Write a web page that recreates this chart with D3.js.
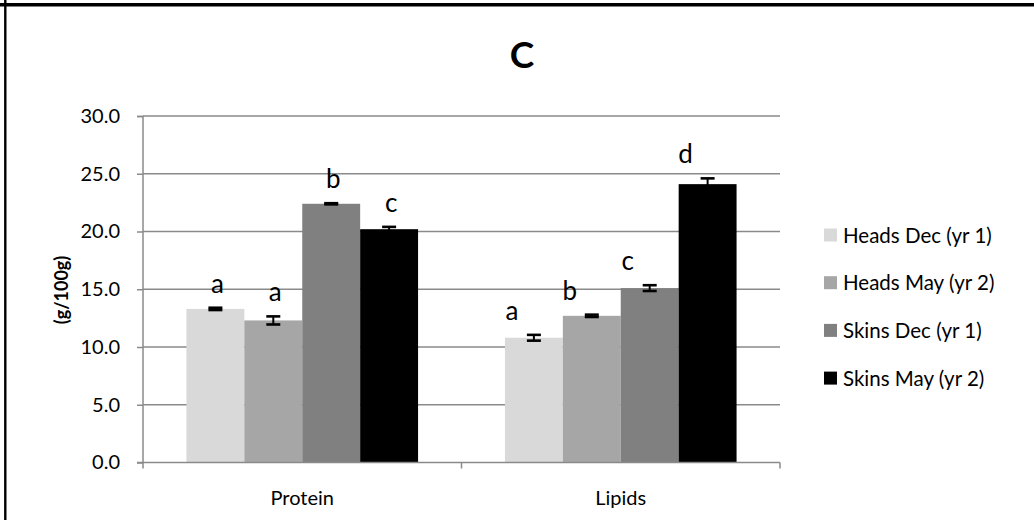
<!DOCTYPE html>
<html>
<head>
<meta charset="utf-8">
<script src="https://cdn.jsdelivr.net/npm/d3@7"></script>
<style>
body{margin:0;background:#fff;}
svg{display:block;font-family:Lato,"Open Sans",sans-serif;}
</style>
</head>
<body>
<script>
// chart values
var categories=["Protein","Lipids"];
var series=["Heads Dec (yr 1)","Heads May (yr 2)","Skins Dec (yr 1)","Skins May (yr 2)"];
var colors=["#d9d9d9","#a6a6a6","#808080","#000000"];
var proteinVals=[13.3,12.3,22.4,20.2];
var proteinErr=[0.1,0.35,0.05,0.2];
var proteinLetters=["a","a","b","c"];
var lipidVals=[10.8,12.7,15.1,24.1];
var lipidErr=[0.25,0.1,0.25,0.5];
var lipidLetters=["a","b","c","d"];
var yTicks=[0,5,10,15,20,25,30];

var width=1034,height=520;
var svg=d3.select('body').append('svg')
	.attr('width',width)
	.attr('height',height);

// frame
svg.append('line').attr('x1',0).attr('x2',width).attr('y1',4.8).attr('y2',4.8)
	.attr('stroke','#000').attr('stroke-width',3.6);
svg.append('line').attr('x1',5.3).attr('x2',5.3).attr('y1',0).attr('y2',height)
	.attr('stroke','#000').attr('stroke-width',2.4);

var x0=d3.scaleBand().domain(categories).range([143,780]);
var x1=d3.scaleBand().domain(series).range([0,x0.bandwidth()]).paddingOuter(0.75);
var y=d3.scaleLinear().domain([0,30]).range([462.5,116]);

var data=[];
categories.forEach(function(c,ci){
	var vals=ci==0?proteinVals:lipidVals;
	var errs=ci==0?proteinErr:lipidErr;
	var lets=ci==0?proteinLetters:lipidLetters;
	series.forEach(function(s,si){
		data.push({cat:c,ser:s,val:vals[si],err:errs[si],letter:lets[si],color:colors[si]});
	});
});

// gridlines
svg.append('g').selectAll('line')
	.data(yTicks.slice(1))
	.enter().append('line')
	.attr('x1',143).attr('x2',780)
	.attr('y1',function(d){return y(d);})
	.attr('y2',function(d){return y(d);})
	.attr('stroke','#8a8a8a').attr('stroke-width',1.5);

// bars
svg.append('g').selectAll('rect')
	.data(data)
	.enter().append('rect')
	.attr('x',function(d){return x0(d.cat)+x1(d.ser);})
	.attr('y',function(d){return y(d.val);})
	.attr('width',x1.bandwidth())
	.attr('height',function(d){return y(0)-y(d.val);})
	.attr('fill',function(d){return d.color;});

// error bars
var eb=svg.append('g').attr('stroke','#000').attr('stroke-width',2);
data.forEach(function(d){
	var cx=x0(d.cat)+x1(d.ser)+x1.bandwidth()/2;
	eb.append('line').attr('x1',cx).attr('x2',cx).attr('y1',y(d.val+d.err)).attr('y2',y(d.val-d.err));
	eb.append('line').attr('x1',cx-7).attr('x2',cx+7).attr('y1',y(d.val+d.err)).attr('y2',y(d.val+d.err)).attr('stroke-width',2.6);
	eb.append('line').attr('x1',cx-7).attr('x2',cx+7).attr('y1',y(d.val-d.err)).attr('y2',y(d.val-d.err)).attr('stroke-width',2.6);
});

// significance letters
var labelDx={Protein:2,Lipids:-22};
svg.append('g').selectAll('text')
	.data(data)
	.enter().append('text')
	.attr('x',function(d){return x0(d.cat)+x1(d.ser)+x1.bandwidth()/2+labelDx[d.cat];})
	.attr('y',function(d){return y(d.val+d.err)-15;})
	.attr('text-anchor','middle')
	.style('font-size','26px')
	.attr('fill','#000')
	.text(function(d){return d.letter;});

// y axis
var yAxis=d3.axisLeft(y).tickValues(yTicks).tickSize(6).tickPadding(17)
	.tickFormat(d3.format('.1f'));
var yg=svg.append('g').attr('transform','translate(143,0)').call(yAxis);
yg.select('.domain').attr('stroke','#8a8a8a').attr('stroke-width',1.5).attr('d','M-6,116.5H0V462.5H-6');
yg.selectAll('.tick line').attr('stroke','#8a8a8a').attr('stroke-width',1.5);
yg.selectAll('.tick text').style('font-size','20px').style('font-family','Lato,sans-serif').attr('fill','#000');

// x axis
var xg=svg.append('g');
xg.append('line').attr('x1',143).attr('x2',780).attr('y1',y(0)).attr('y2',y(0))
	.attr('stroke','#8a8a8a').attr('stroke-width',1.5);
xg.selectAll('.xt').data([143].concat(categories.map(function(c){return x0(c)+x0.bandwidth();})))
	.enter().append('line')
	.attr('x1',function(d){return d;}).attr('x2',function(d){return d;})
	.attr('y1',y(0)).attr('y2',y(0)+6)
	.attr('stroke','#8a8a8a').attr('stroke-width',1.5);
xg.selectAll('text').data(categories)
	.enter().append('text')
	.attr('x',function(d){return x0(d)+x0.bandwidth()/2;})
	.attr('y',505)
	.attr('text-anchor','middle')
	.style('font-size','20px')
	.text(function(d){return d;});

// title
svg.append('text')
	.attr('x',522).attr('y',68)
	.attr('text-anchor','middle')
	.style('font-size','37px').style('font-weight','bold')
	.text('C');

// y label
svg.append('text')
	.attr('transform','translate(68,290) rotate(-90)')
	.attr('text-anchor','middle')
	.style('font-size','18px').style('font-weight','bold')
	.text('(g/100g)');

// legend
var lg=svg.append('g').selectAll('g')
	.data(series)
	.enter().append('g')
	.attr('transform',function(d,i){return 'translate(824,'+(235+i*47.7)+')';});
lg.append('rect').attr('x',0).attr('y',-6.5).attr('width',13).attr('height',13)
	.attr('fill',function(d,i){return colors[i];});
lg.append('text').attr('x',19).attr('y',7.5)
	.style('font-size','20.5px')
	.text(function(d){return d;});
</script>
</body>
</html>
